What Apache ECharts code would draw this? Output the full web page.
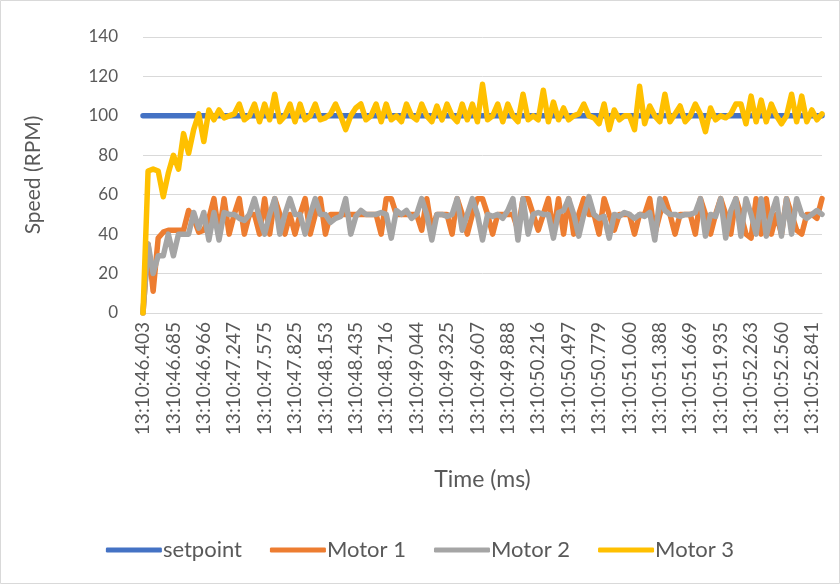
<!DOCTYPE html>
<html>
<head>
<meta charset="utf-8">
<script src="https://cdn.jsdelivr.net/npm/echarts@6/dist/echarts.min.js"></script>
<style>
html,body{margin:0;padding:0;background:#fff;}
#chart{width:840px;height:584px;}
</style>
</head>
<body>
<div id="chart"></div>
<script>
// Tick labels shown on the time axis (one every 6 samples)
const tickLabels = ['13:10:46.403','13:10:46.685','13:10:46.966','13:10:47.247','13:10:47.575','13:10:47.825','13:10:48.153','13:10:48.435','13:10:48.716','13:10:49.044','13:10:49.325','13:10:49.607','13:10:49.888','13:10:50.216','13:10:50.497','13:10:50.779','13:10:51.060','13:10:51.388','13:10:51.669','13:10:51.935','13:10:52.263','13:10:52.560','13:10:52.841'];
const samplesPerTick = 6;
const sampleCount = 135;

const setpoint = [100,100,100,100,100,100,100,100,100,100,100,100,100,100,100,100,100,100,100,100,100,100,100,100,100,100,100,100,100,100,100,100,100,100,100,100,100,100,100,100,100,100,100,100,100,100,100,100,100,100,100,100,100,100,100,100,100,100,100,100,100,100,100,100,100,100,100,100,100,100,100,100,100,100,100,100,100,100,100,100,100,100,100,100,100,100,100,100,100,100,100,100,100,100,100,100,100,100,100,100,100,100,100,100,100,100,100,100,100,100,100,100,100,100,100,100,100,100,100,100,100,100,100,100,100,100,100,100,100,100,100,100,100,100,100];

const motor1 = [0,35,11,38,41,42,42,42,42,52,
 48,41,42,48,58,40,58,40,50,58,
 40,50,50,40,58,40,58,50,40,50,
 40,50,58,40,50,58,40,50,50,50,
 50,50,50,50,50,50,50,40,58,58,
 50,50,50,50,50,42,58,42,50,50,
 50,40,58,50,40,50,58,58,50,40,
 50,50,50,50,42,58,58,50,42,50,
 58,40,58,40,58,40,50,58,50,50,
 40,58,50,42,50,50,50,40,50,50,
 58,40,50,58,50,40,50,50,50,40,
 58,50,40,50,58,50,40,58,50,40,
 38,58,40,58,40,50,40,58,50,42,
 40,50,50,48,58];

const motor2 = [0,35,20,29,29,40,29,40,40,40,
 51,43,51,37,51,37,51,50,50,48,
 47,50,58,48,40,50,58,40,50,58,
 50,50,40,50,58,50,50,46,48,49,
 58,40,49,52,50,50,50,51,50,38,
 52,50,52,48,50,58,50,37,50,50,
 49,50,58,42,50,58,50,37,50,49,
 50,48,52,58,37,58,40,50,51,50,
 50,38,51,52,58,50,39,50,59,50,
 48,49,38,50,49,51,50,48,50,49,
 51,37,58,52,50,50,49,50,50,51,
 58,39,50,49,58,38,52,58,39,58,
 50,40,58,39,50,58,39,58,40,58,
 50,48,50,52,50];

const motor3 = [0,72,73,72,59,71,80,73,91,81,
 93,101,87,103,98,103,99,100,101,106,
 98,100,106,97,106,98,111,97,100,106,
 97,106,98,100,106,98,99,101,106,100,
 93,100,104,106,98,100,106,97,106,98,
 100,97,106,100,98,106,100,97,105,98,
 106,100,97,106,98,106,97,116,98,100,
 106,97,106,100,97,111,98,100,98,113,
 97,107,98,104,98,100,101,106,100,99,
 96,106,93,103,98,100,100,93,115,96,
 105,100,97,111,97,101,105,97,100,106,
 101,92,104,98,100,99,101,106,106,96,
 110,97,108,97,106,100,96,100,111,97,
 110,97,103,98,101];

const yTicks = {min: 0, max: 140, step: 20};

// category list: tick label at every 6th sample, blank otherwise
const categories = [];
for (let i = 0; i < sampleCount; i++) {
  categories.push(i % samplesPerTick === 0 ? (tickLabels[i / samplesPerTick] || '') : '');
}

const FONT = 'Lato, "Open Sans", sans-serif';
const chart = echarts.init(document.getElementById('chart'), null, {renderer: 'canvas'});
function lineSeries(name, data, color) {
  return {
    name: name, type: 'line', data: data, symbol: 'none', smooth: false,
    lineStyle: {width: 5.5, color: color, cap: 'round', join: 'round'},
    itemStyle: {color: color},
    emphasis: {disabled: true}
  };
}
chart.setOption({
  animation: false,
  backgroundColor: '#ffffff',
  textStyle: {fontFamily: FONT},
  graphic: [{type: 'rect', shape: {x: 0.5, y: 0.5, width: 839, height: 583},
    style: {fill: 'none', stroke: '#d9d9d9', lineWidth: 1}, silent: true}],
  grid: {left: 143, right: 18, top: 37, bottom: 271, containLabel: false},
  xAxis: {
    type: 'category', data: categories, boundaryGap: false,
    axisLine: {show: true, lineStyle: {color: '#d9d9d9', width: 1}},
    axisTick: {show: false},
    axisLabel: {rotate: 90, interval: 0, color: '#595959', fontSize: 19, margin: 9, fontFamily: FONT},
    splitLine: {show: false},
    name: 'Time (ms)', nameLocation: 'middle', nameGap: 155,
    nameTextStyle: {fontSize: 23, color: '#595959', fontFamily: FONT}
  },
  yAxis: {
    type: 'value', min: yTicks.min, max: yTicks.max, interval: yTicks.step,
    axisLine: {show: false}, axisTick: {show: false},
    axisLabel: {color: '#595959', fontSize: 17, margin: 25, fontFamily: FONT},
    splitLine: {lineStyle: {color: '#d9d9d9', width: 1}},
    name: 'Speed (RPM)', nameLocation: 'middle', nameGap: 99,
    nameTextStyle: {fontSize: 21, color: '#595959', fontFamily: FONT}
  },
  legend: {
    bottom: 18, left: 'center', icon: 'roundRect', itemWidth: 56, itemHeight: 5, itemGap: 28,
    textStyle: {fontSize: 22, color: '#595959', fontFamily: FONT, padding: [0,0,0,-4]},
    data: ['setpoint', 'Motor 1', 'Motor 2', 'Motor 3']
  },
  series: [
    lineSeries('setpoint', setpoint, '#4472C4'),
    lineSeries('Motor 1', motor1, '#ED7D31'),
    lineSeries('Motor 2', motor2, '#A5A5A5'),
    lineSeries('Motor 3', motor3, '#FFC000')
  ]
});
</script>
</body>
</html>
